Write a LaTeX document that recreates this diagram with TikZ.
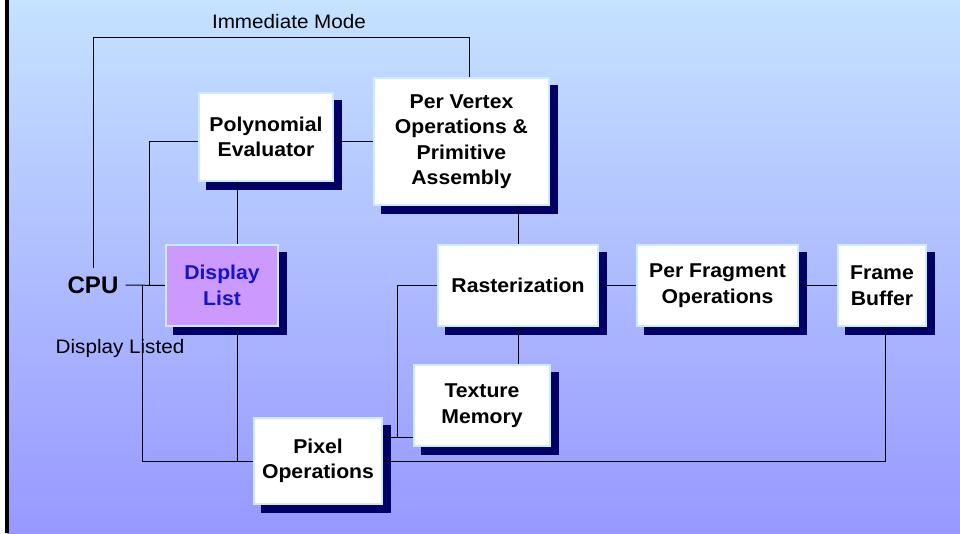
\documentclass[tikz,border=0pt]{standalone}
\usepackage{fontspec}
\setmainfont{Liberation Sans}
\newfontfamily\stretchfont{Liberation Sans}[FakeStretch=1.06]
\usetikzlibrary{calc}
\pgfdeclarelayer{bg}
\pgfdeclarelayer{wires}
\pgfsetlayers{bg,wires,main}
\definecolor{navy}{RGB}{0,0,102}
\definecolor{edgec}{RGB}{205,235,255}
\definecolor{lilac}{RGB}{204,153,255}
\definecolor{dlblue}{RGB}{20,20,200}
\definecolor{topbg}{RGB}{197,226,255}
\definecolor{botbg}{RGB}{152,152,255}
\begin{document}
\begin{tikzpicture}[x=1pt,y=-1pt,
  blk/.style={draw=edgec, line width=1.2pt, fill=white, align=center, inner sep=0pt,
    font=\stretchfont\bfseries\fontsize{20}{25.5}\selectfont, text=black},
  wire/.style={line width=1pt, draw=black},
  lbl/.style={font=\stretchfont\fontsize{19.5}{23}\selectfont, inner sep=0pt}]
\useasboundingbox (0,0) rectangle (960,533);

% boxes
\node[blk, minimum width=134pt, minimum height=88pt] (poly) at (266,137) {Polynomial\\Evaluator};
\node[blk, minimum width=175pt, minimum height=127pt] (pv) at (461.5,141.5) {Per Vertex\\Operations \&\\Primitive\\Assembly};
\node[blk, fill=lilac, text=dlblue, minimum width=112pt, minimum height=81pt] (dl) at (222,285.5) {Display\\List};
\node[blk, minimum width=160pt, minimum height=81pt] (rast) at (518,285.5) {Rasterization};
\node[blk, minimum width=161pt, minimum height=81pt] (pf) at (717.5,285.5) {Per Fragment\\Operations};
\node[blk, minimum width=88pt, minimum height=81pt] (fb) at (882,285.5) {Frame\\Buffer};
\node[blk, minimum width=136pt, minimum height=81pt] (tex) at (482,405.5) {Texture\\Memory};
\node[blk, minimum width=128pt, minimum height=86pt] (px) at (318,461) {Pixel\\Operations};

% free labels
\node[font=\bfseries\fontsize{24}{28}\selectfont, inner xsep=7pt, inner ysep=8pt] (cpu) at (93,285) {CPU};
\node[lbl] (imm) at (289,22) {Immediate Mode};
\node[lbl] (dlt) at (120,348) {Display Listed};

% background and shadows
\begin{pgfonlayer}{bg}
  \fill[white] (0,0) rectangle (960,533);
  \shade[top color=topbg, bottom color=botbg] (7,0) rectangle (960,533);
  \draw[line width=3.4pt] (7,0) -- (7,533);
  \foreach \n in {poly,pv,dl,rast,pf,fb,tex,px}
    \fill[navy] ($(\n.south west)+(8,8)$) rectangle ($(\n.north east)+(8,8)$);
\end{pgfonlayer}

% connectors
\begin{pgfonlayer}{wires}
  \coordinate (immL) at (93,37);
  \coordinate (immR) at (469,37);
  \coordinate (pe) at (0,141);
  \coordinate (j1) at (149,285);
  \coordinate (j2) at (142,285);
  \coordinate (x1) at (237,0);
  \coordinate (j3) at (397,437);
  \coordinate (x2) at (885,0);
  \draw[wire] (cpu.north) -- (cpu.north |- immL) -- (immR) -- (immR |- pv.north);
  \draw[wire] (cpu.east) -- (dl.west);
  \draw[wire] (poly.east |- pe) -- (pv.west |- pe);
  \draw[wire] (poly.west |- pe) -| (j1);
  \draw[wire] (poly.south -| x1) -- (dl.north -| x1);
  \draw[wire] (dl.south -| x1) -- (x1 |- px.west);
  \draw[wire] (j2) |- (px.west);
  \draw[wire] (rast.north) -- (rast.north |- pv.south);
  \draw[wire] (rast.east) -- (pf.west);
  \draw[wire] (pf.east) -- (fb.west);
  \draw[wire] (rast.south) -- (rast.south |- tex.north);
  \draw[wire] (rast.west) -| (j3) -- (j3 -| tex.west);
  \draw[wire] (px.east |- j3) -- (j3);
  \draw[wire] (px.east) -| (x2 |- fb.south);
\end{pgfonlayer}
\end{tikzpicture}
\end{document}
